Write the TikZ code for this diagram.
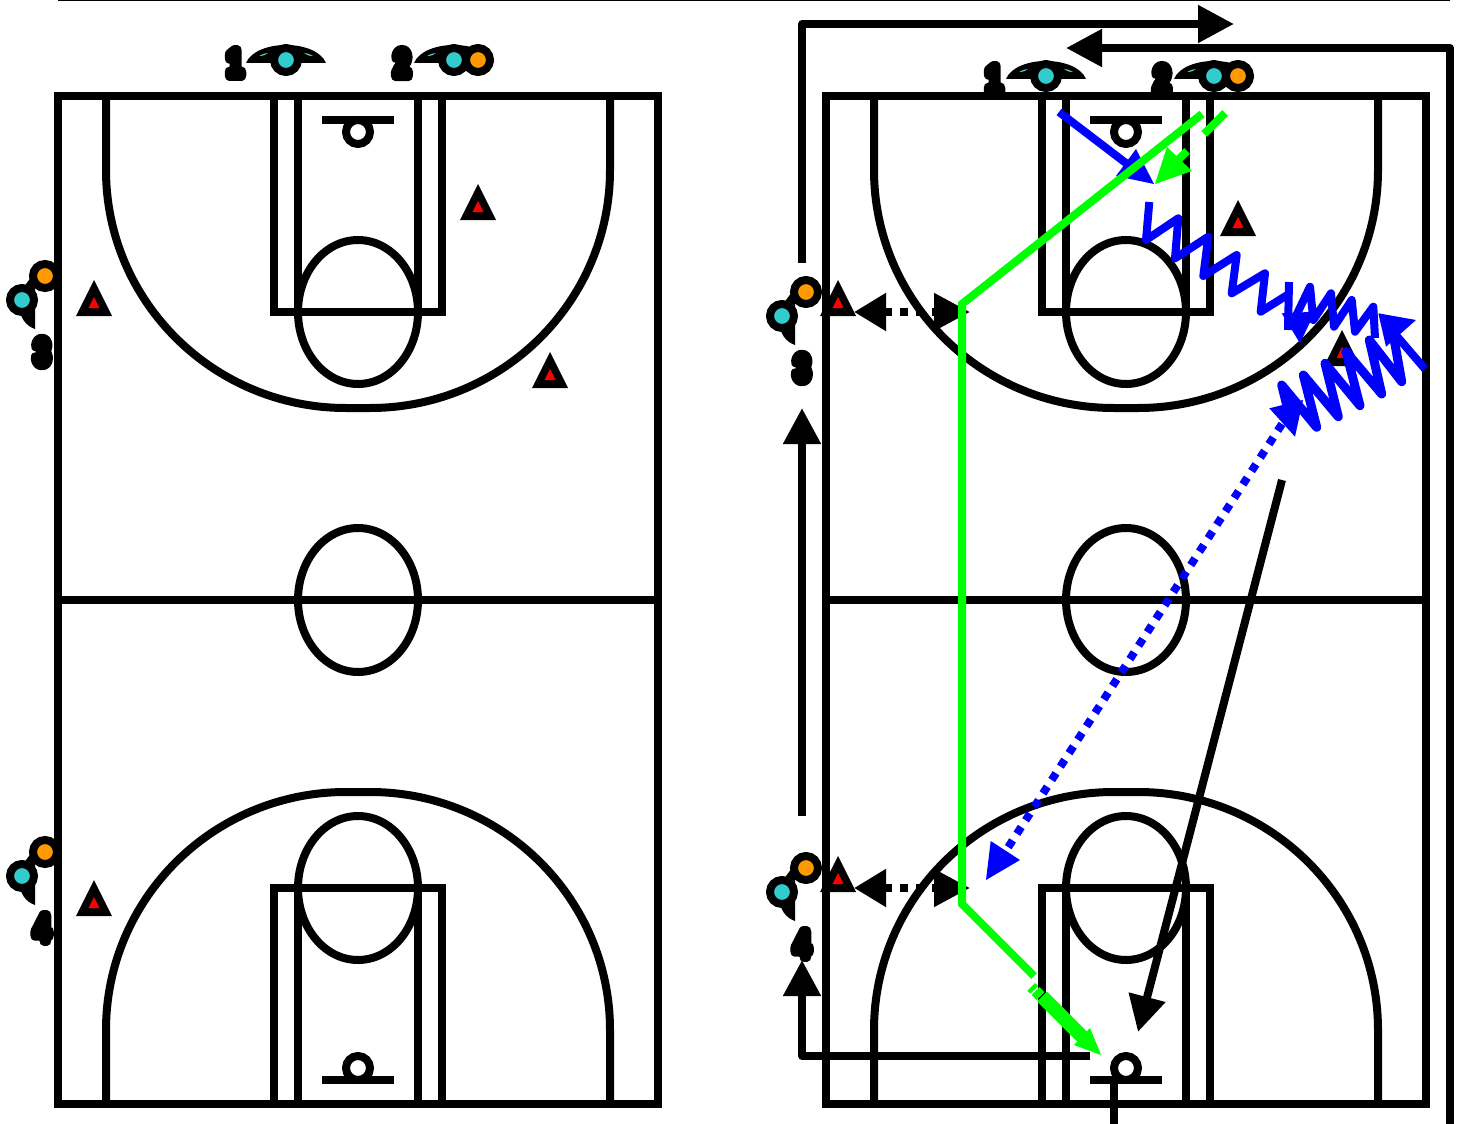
\documentclass[tikz,border=0pt]{standalone}
\usepackage{fontspec}
\usetikzlibrary{arrows.meta}
\newfontfamily\blobfont[FakeBold=28]{Liberation Sans Bold}
\definecolor{pteal}{HTML}{33CCCC}
\definecolor{porange}{HTML}{FF9900}
\definecolor{pgreen}{HTML}{00FF00}
\definecolor{pblue}{HTML}{0000FF}
\newcommand{\blobtext}[1]{\scalebox{0.9}[1.15]{\special{pdf:code 1 j 1 J}\blobfont\fontsize{32}{32}\selectfont #1}}
\tikzset{
  courtline/.style={draw=black,line width=8pt,miter limit=10},
  digitlabel/.style={text=black,inner sep=0pt},
  teal disc/.style={circle,draw=black,line width=8pt,fill=pteal,minimum size=24pt,inner sep=0pt},
  orange disc/.style={circle,draw=black,line width=8pt,fill=porange,minimum size=24pt,inner sep=0pt},
  blackmove/.style={draw=black,line width=8pt,-{Triangle[length=36pt,width=36pt]}},
  dribbleline/.style={draw=pblue,line width=8pt,line join=round},
  greenline/.style={draw=pgreen,line width=8pt},
  blueline/.style={draw=pblue,line width=8pt},
  dotmove/.style={draw=black,line width=8pt,dash pattern=on 8pt off 8pt,{Triangle[length=32pt,width=36pt]}-{Triangle[length=36pt,width=36pt]}},
}
\newcommand{\courtat}[1]{%
 \begin{scope}[xshift=#1pt]
  \path[courtline] (58,96) rectangle (658,1104);
  \path[courtline] (58,600) -- (658,600);
  \path[courtline] (358,600) ellipse [x radius=60,y radius=72];
  % top half
  \path[courtline] (274,312) -- (274,96) (298,96) -- (298,312) (418,312) -- (418,96) (442,96) -- (442,312) (270,312) -- (446,312);
  \path[courtline] (358,312) ellipse [x radius=60,y radius=72];
  \path[courtline] (322,120) -- (394,120);
  \path[courtline] (358,132) circle [radius=12];
  \path[courtline] (106,96) -- (106,170) .. controls (106,301) and (213,408) .. (346,408) -- (370,408) .. controls (503,408) and (610,301) .. (610,170) -- (610,96);
  % bottom half
  \path[courtline] (274,888) -- (274,1104) (298,1104) -- (298,888) (418,888) -- (418,1104) (442,1104) -- (442,888) (270,888) -- (446,888);
  \path[courtline] (358,888) ellipse [x radius=60,y radius=72];
  \path[courtline] (322,1080) -- (394,1080);
  \path[courtline] (358,1068) circle [radius=12];
  \path[courtline] (106,1104) -- (106,1030) .. controls (106,899) and (213,792) .. (346,792) -- (370,792) .. controls (503,792) and (610,899) .. (610,1030) -- (610,1104);
 \end{scope}}
\newcommand{\conemark}[2]{% apex x, apex y
 \fill[black] (#1,#2) -- (#1+18,#2+36) -- (#1-18,#2+36) -- cycle;
 \fill[red] (#1,#2+17) -- (#1+5.5,#2+28) -- (#1-5.5,#2+28) -- cycle;}
\newcommand{\capmark}[2]{% teal centre x,y
 \fill[black] (#1-40,#2+3) .. controls (#1-30,#2-21) and (#1+30,#2-21) .. (#1+40,#2+3) -- cycle;
 \fill[pteal] (#1-27,#2-4) .. controls (#1-24,#2-6) and (#1-21,#2-7) .. (#1-18,#2-7) .. controls (#1-20,#2-5) and (#1-23,#2-4) .. cycle;
 \fill[pteal] (#1+27,#2-4) .. controls (#1+24,#2-6) and (#1+21,#2-7) .. (#1+18,#2-7) .. controls (#1+20,#2-5) and (#1+23,#2-4) .. cycle;}
\newcommand{\sidecap}[2]{% teal centre x,y
 \fill[black] (#1+13,#2-28) -- (#1+1,#2-12) -- (#1-3,#2+6) .. controls (#1-2,#2+18) and (#1+4,#2+26) .. (#1+13,#2+29) -- cycle;}
\begin{document}
\begin{tikzpicture}[x=1pt,y=-1pt]
\useasboundingbox (0,0) rectangle (1460,1124);
\draw[black,line width=3pt] (58,0) -- (1450,0);
\courtat{0}
\courtat{768}
% cones left
\conemark{94}{280}
\conemark{478}{184}
\conemark{550}{352}
\conemark{94}{880}
% cones right
\conemark{838}{280}
\conemark{838}{856}
\conemark{1238}{200}
\conemark{1342}{330}
% players left
\capmark{286}{60}
\node[digitlabel] (a1) at (235,63) {\blobtext{1}};
\node[teal disc] (at1) at (286,60) {};
\capmark{454}{60}
\node[digitlabel] (a2) at (402,63) {\blobtext{2}};
\node[teal disc] (at2) at (454,60) {};
\node[orange disc] (ao2) at (478,60) {};
\sidecap{22}{300}
\node[teal disc] (at3) at (22,300) {};
\node[orange disc] (ao3) at (45,276) {};
\node[digitlabel] (a3) at (42,352) {\blobtext{3}};
\sidecap{22}{876}
\node[teal disc] (at4) at (22,876) {};
\node[orange disc] (ao4) at (45,852) {};
\node[digitlabel] (a4) at (42,928) {\blobtext{4}};
% players right
\capmark{1046}{76}
\node[digitlabel] (b1) at (994,79) {\blobtext{1}};
\node[teal disc] (bt1) at (1046,76) {};
\capmark{1214}{76}
\node[digitlabel] (b2) at (1162,79) {\blobtext{2}};
\node[teal disc] (bt2) at (1214,76) {};
\node[orange disc] (bo2) at (1238,76) {};
\sidecap{782}{316}
\node[teal disc] (bt3) at (782,316) {};
\node[orange disc] (bo3) at (806,292) {};
\node[digitlabel] (b3) at (802,368) {\blobtext{3}};
\sidecap{782}{892}
\node[teal disc] (bt4) at (782,892) {};
\node[orange disc] (bo4) at (806,868) {};
\node[digitlabel] (b4) at (802,944) {\blobtext{4}};
% black movement lines
\coordinate (m1s) at (802,263); \coordinate (m1c) at (802,24); \coordinate (m1e) at (1234,24);
\coordinate (m2s) at (1450,1124); \coordinate (m2c) at (1450,48); \coordinate (m2e) at (1066,48);
\coordinate (m3s) at (802,816); \coordinate (m3e) at (802,408);
\coordinate (m4s) at (1090,1056); \coordinate (m4c) at (802,1056); \coordinate (m4e) at (802,960);
\coordinate (m5s) at (1114,1080); \coordinate (m5e) at (1114,1124);
\coordinate (m6s) at (1282,480); \coordinate (m6e) at (1138,1032);
\path[blackmove,line join=round] (m1s) -- (m1c) -- (m1e);
\path[blackmove,line join=round] (m2s) -- (m2c) -- (m2e);
\path[blackmove] (m3s) -- (m3e);
\path[blackmove,line join=round] (m4s) -- (m4c) -- (m4e);
\draw[black,line width=8pt] (m5s) -- (m5e);
\path[blackmove] (m6s) -- (m6e);
% dotted double arrows
\coordinate (d1l) at (854,312); \coordinate (d1r) at (970,312);
\coordinate (d2l) at (854,888); \coordinate (d2r) at (970,888);
\path[dotmove] (d1l) -- (d1r);
\path[dotmove] (d2l) -- (d2r);
% blue cut
\coordinate (u1s) at (1059,112); \coordinate (u1e) at (1135,170);
\draw[blueline] (u1s) -- (u1e);
\fill[pblue] (1154,184) -- (1136,149) -- (1116,176) -- cycle;
% green lines
\coordinate (g1) at (1202,114); \coordinate (g2) at (962,304); \coordinate (g3) at (962,904); \coordinate (g4) at (1034,976);
\draw[greenline] (g1) -- (g2) -- (g3) -- (g4);
\draw[greenline] (1225,113) -- (1204,134);
\draw[greenline] (1187,151) -- (1178,160);
\fill[pgreen] (1155,184) -- (1167,147) -- (1192,171) -- cycle;
\draw[pgreen,line width=11pt] (1031.2,986.8) -- (1034.2,989.8);
\draw[pgreen,line width=11pt] (1035.5,991) -- (1040.5,996);
\draw[pgreen,line width=14pt] (1042,996.5) -- (1082,1036.5);
\fill[pgreen] (1101,1055) -- (1074,1045) -- (1090,1028) -- cycle;
% blue dribbles
\draw[dribbleline] (1149.3,202) -- (1146,240) -- (1178.3,218.3) -- (1175,258.3) -- (1208.3,236.7) -- (1203.3,276) -- (1236.7,255) -- (1231.7,293.3) -- (1265,273.3) -- (1260.7,311.7) -- (1290,293.3);
\draw[dribbleline,line join=miter] (1289,282) -- (1288,330);
\draw[dribbleline] (1375,338) -- (1373.3,306.7) -- (1355,331.7) -- (1351.7,300) -- (1334,326.7) -- (1331,293.3) -- (1313.3,320) -- (1310,286.7) -- (1295,318);
\fill[pblue] (1281.7,313.3) -- (1315,311.7) -- (1300,343.3) -- cycle;
\draw[dribbleline,line width=9pt] (1393,333) -- (1401.7,381.7) -- (1369.3,340) -- (1381.7,394) -- (1346,351.7) -- (1360,405.7) -- (1325,363.3) -- (1338.3,416.7) -- (1303.3,375) -- (1316.7,427.3) -- (1281.7,385) -- (1288,410);
\draw[blueline] (1425,369) -- (1395,334);
\fill[pblue] (1378.3,313.3) -- (1416,320) -- (1386,346.7) -- cycle;
\fill[pblue] (1269.3,408.3) -- (1303,400) -- (1295,436.7) -- cycle;
\coordinate (p1s) at (1282,424); \coordinate (p1e) at (1007,849);
\draw[pblue,line width=8pt,dash pattern=on 8pt off 8pt] (p1s) -- (p1e);
\fill[pblue] (990.7,841) -- (1020,860) -- (986,880) -- cycle;
\end{tikzpicture}
\end{document}
